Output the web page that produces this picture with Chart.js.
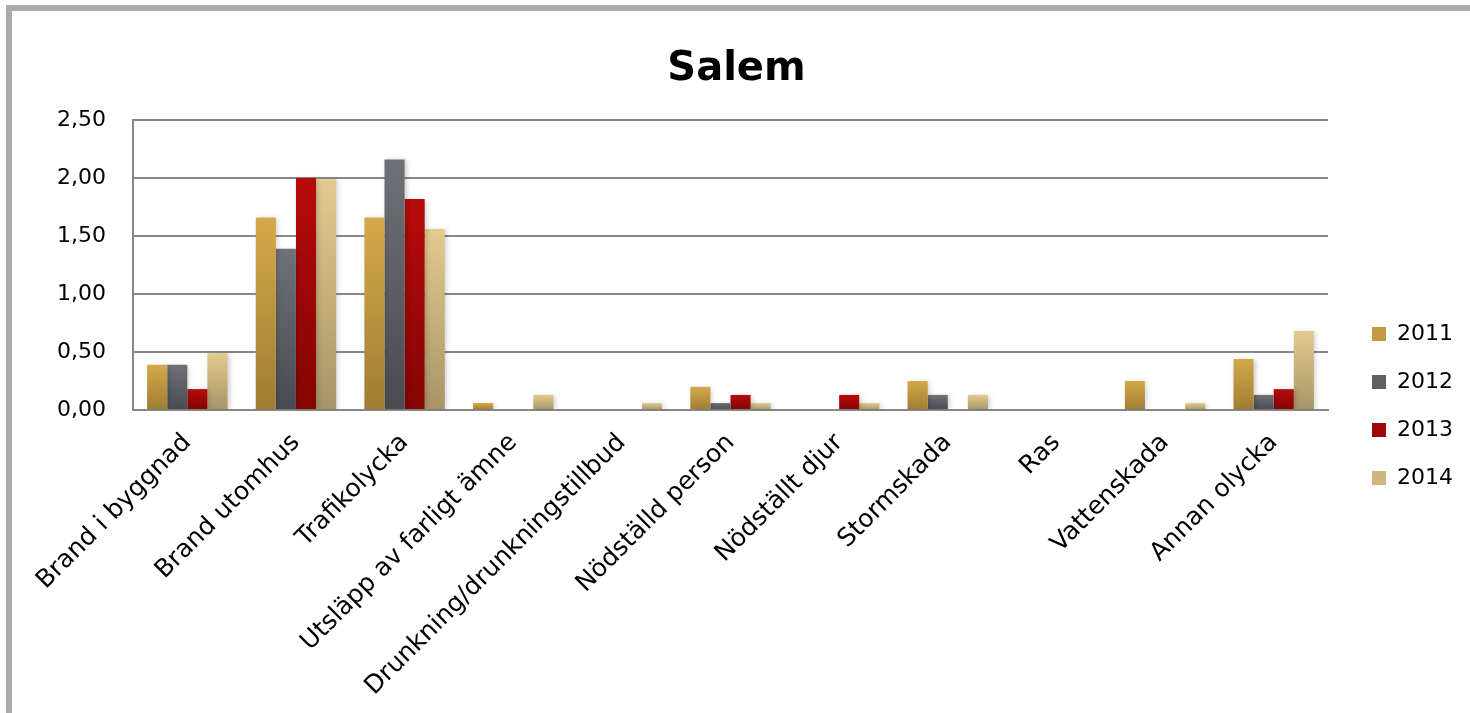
<!DOCTYPE html>
<html>
<head>
<meta charset="utf-8">
<script src="https://cdn.jsdelivr.net/npm/chart.js@4.4.1/dist/chart.umd.min.js"></script>
<style>
  html, body { margin: 0; padding: 0; background: #fff; }
  #wrap { position: relative; width: 1470px; height: 713px; overflow: hidden; }
  #frame { position: absolute; left: 6px; top: 5px; width: 2000px; height: 2000px;
           border-left: 6px solid #aaaaaa; border-top: 6px solid #aaaaaa; box-sizing: border-box; }
  #c { position: absolute; left: 0; top: 0; }
</style>
</head>
<body>
<div id="wrap">
  <div id="frame"></div>
  <canvas id="c" width="1470" height="713"></canvas>
</div>
<script>
const chartTitle = "Salem";
const categories = ["Brand i byggnad", "Brand utomhus", "Trafikolycka", "Utsläpp av farligt ämne",
  "Drunkning/drunkningstillbud", "Nödställd person", "Nödställt djur", "Stormskada", "Ras",
  "Vattenskada", "Annan olycka"];
const seriesNames = ["2011", "2012", "2013", "2014"];
const values2011 = [0.39, 1.66, 1.66, 0.06, 0, 0.20, 0, 0.25, 0, 0.25, 0.44];
const values2012 = [0.39, 1.39, 2.16, 0, 0, 0.06, 0, 0.13, 0, 0, 0.13];
const values2013 = [0.18, 2.00, 1.82, 0, 0, 0.13, 0.13, 0, 0, 0, 0.18];
const values2014 = [0.49, 1.99, 1.56, 0.13, 0.06, 0.06, 0.06, 0.13, 0, 0.06, 0.68];
const yMin = 0, yMax = 2.5, yStep = 0.5;

const seriesValues = [values2011, values2012, values2013, values2014];
const gradColors = [
  ["#d4a94a", "#9e7d33"],
  ["#707176", "#4a4b50"],
  ["#b70b0b", "#840404"],
  ["#e3cb8f", "#a79467"]
];
const legendColors = ["#c39c42", "#5e5f64", "#a20808", "#cfb77f"];

function barFill(i) {
  return (ctx) => {
    const chart = ctx.chart;
    if (!chart.chartArea || ctx.type !== 'data') return gradColors[i][0];
    const ys = chart.scales.y;
    const v = ctx.raw || 0;
    const top = ys.getPixelForValue(v);
    const bottom = ys.getPixelForValue(0);
    if (bottom - top < 1) return gradColors[i][0];
    const g = chart.ctx.createLinearGradient(0, top, 0, bottom);
    g.addColorStop(0, gradColors[i][0]);
    g.addColorStop(1, gradColors[i][1]);
    return g;
  };
}

const shadowPlugin = {
  id: 'barShadow',
  beforeDatasetsDraw(chart) {
    const c = chart.ctx;
    c.save();
    c.shadowColor = 'rgba(0,0,0,0.18)';
    c.shadowBlur = 5;
    c.shadowOffsetX = 2;
    c.shadowOffsetY = 1;
  },
  afterDatasetsDraw(chart) { chart.ctx.restore(); }
};

Chart.defaults.font.family = "'DejaVu Sans', sans-serif";
Chart.defaults.color = '#000';

new Chart(document.getElementById('c'), {
  type: 'bar',
  data: {
    labels: categories,
    datasets: seriesNames.map((name, i) => ({
      label: name,
      data: seriesValues[i],
      backgroundColor: barFill(i),
      borderWidth: 0,
      categoryPercentage: 0.74,
      barPercentage: 1.0
    }))
  },
  plugins: [shadowPlugin],
  options: {
    responsive: false,
    animation: false,
    layout: { padding: { left: 10, right: 7, top: 0, bottom: 0 } },
    plugins: {
      title: {
        display: true,
        text: chartTitle,
        color: '#000',
        font: { size: 40, weight: 'bold' },
        padding: { top: 46, bottom: 26 }
      },
      legend: {
        position: 'right',
        align: 'center',
        title: { display: true, text: '', font: { size: 10 }, padding: { top: 87, bottom: 0 } },
        labels: {
          boxWidth: 14,
          boxHeight: 14,
          padding: 26,
          color: '#000',
          font: { size: 22 },
          generateLabels: (chart) => seriesNames.map((n, i) => ({
            text: n, fillStyle: legendColors[i], strokeStyle: legendColors[i],
            lineWidth: 0, hidden: false, datasetIndex: i
          }))
        }
      },
      tooltip: { enabled: false }
    },
    scales: {
      x: {
        grid: { display: false, drawTicks: false },
        border: { display: true, color: '#888888', width: 2 },
        ticks: { autoSkip: false, maxRotation: 45, minRotation: 45, padding: 18, font: { size: 25 }, color: '#000' },
        afterFit: (s) => { s.height = 303; s.paddingLeft = 0; s.paddingRight = 0; }
      },
      y: {
        min: yMin, max: yMax,
        grid: { color: '#888888', lineWidth: 2, drawTicks: false },
        border: { display: true, color: '#888888', width: 2 },
        ticks: {
          stepSize: yStep, padding: 27, font: { size: 22 }, color: '#000',
          callback: (v) => Number(v).toFixed(2).replace('.', ',')
        },
        afterFit: (s) => { s.width = 123; }
      },
      spacer: {
        type: 'linear', position: 'right', display: true,
        grid: { display: false, drawTicks: false },
        border: { display: false },
        ticks: { display: false },
        afterFit: (s) => { s.width = 18; }
      }
    }
  }
});
</script>
</body>
</html>
